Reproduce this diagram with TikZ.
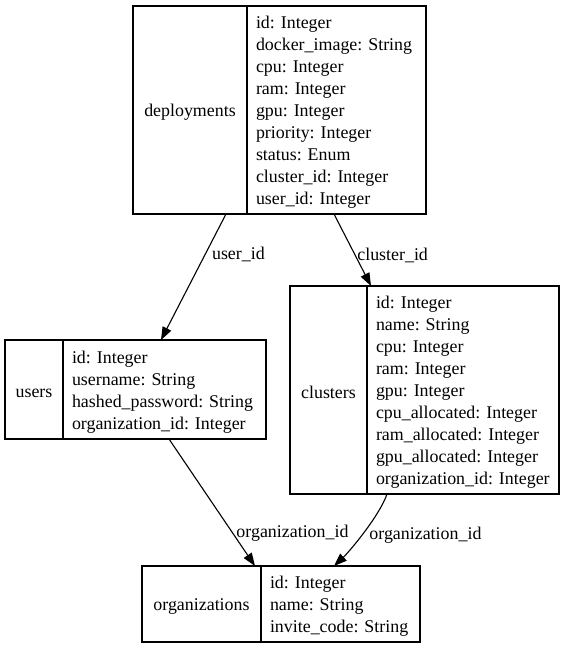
\documentclass[tikz,border=0pt]{standalone}
\usepackage{fontspec}
\setmainfont{Liberation Serif}
\usetikzlibrary{arrows.meta,positioning}
\frenchspacing

% one line of a field list
\newcommand{\fld}[1]{\mbox{\rule[-1pt]{0pt}{18pt}#1}}

\tikzset{
    tablename/.style={draw, line width=1.2pt, inner sep=0pt, outer sep=0pt},
    tablefields/.style={draw, line width=1.2pt, inner xsep=9pt, inner ysep=0pt, outer sep=0pt, align=left},
    fk/.style={line width=1.1pt, -{Triangle[length=13pt, width=9.5pt]}},
    fklabel/.style={anchor=west, inner sep=0pt, xshift=5pt, yshift=-2.5pt}
}

\begin{document}
\begin{tikzpicture}[x=1pt, y=-1pt, font=\fontsize{17.9}{22}\selectfont]
    \useasboundingbox (0,0) rectangle (568,649);
    % Tables:
    \node[tablename, minimum width=114pt, minimum height=208pt](deployments) at (190, 110){\fld{deployments}};
    \node[tablefields, minimum height=208pt, text width=161pt, right=0pt of deployments](deploymentsF){\fld{id: Integer}\\\fld{docker\_image: String}\\\fld{cpu: Integer}\\\fld{ram: Integer}\\\fld{gpu: Integer}\\\fld{priority: Integer}\\\fld{status: Enum}\\\fld{cluster\_id: Integer}\\\fld{user\_id: Integer}};
    \node[tablename, minimum width=58pt, minimum height=99pt](users) at (34, 389.5){\fld{users}};
    \node[tablefields, minimum height=99pt, text width=185pt, right=0pt of users](usersF){\fld{id: Integer}\\\fld{username: String}\\\fld{hashed\_password: String}\\\fld{organization\_id: Integer}};
    \node[tablename, minimum width=77pt, minimum height=208pt](clusters) at (328.5, 390){\fld{clusters}};
    \node[tablefields, minimum height=208pt, text width=174pt, right=0pt of clusters](clustersF){\fld{id: Integer}\\\fld{name: String}\\\fld{cpu: Integer}\\\fld{ram: Integer}\\\fld{gpu: Integer}\\\fld{cpu\_allocated: Integer}\\\fld{ram\_allocated: Integer}\\\fld{gpu\_allocated: Integer}\\\fld{organization\_id: Integer}};
    \node[tablename, minimum width=119pt, minimum height=76pt](organizations) at (201.5, 604){\fld{organizations}};
    \node[tablefields, minimum height=76pt, text width=141pt, right=0pt of organizations](organizationsF){\fld{id: Integer}\\\fld{name: String}\\\fld{invite\_code: String}};
    % Foreign keys:
    \draw[fk] ([xshift=36pt]deployments.south) -- node[fklabel, pos=0.3]{user\_id} ([xshift=-3.5pt]usersF.north);
    \draw[fk] ([xshift=-2.5pt]deploymentsF.south) -- node[fklabel, pos=0.535, xshift=-2pt]{cluster\_id} ([xshift=-92pt]clustersF.north);
    \draw[fk] ([xshift=4.5pt]usersF.south) -- node[fklabel, pos=0.72]{organization\_id} ([xshift=53.5pt]organizations.north);
    \draw[fk] ([xshift=-76pt]clustersF.south) .. controls +(-7,21) and +(16,-15) .. node[fklabel, pos=0.5]{organization\_id} ([xshift=-6.5pt]organizationsF.north);
\end{tikzpicture}
\end{document}
